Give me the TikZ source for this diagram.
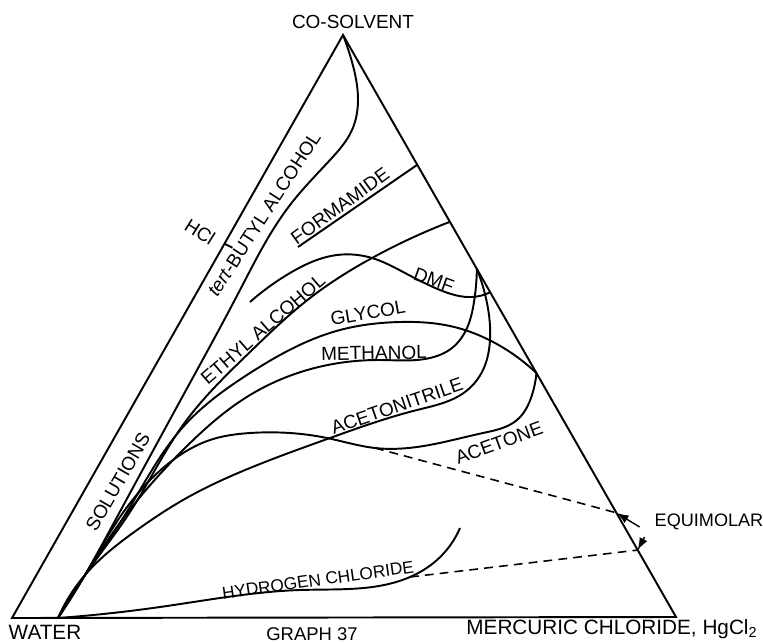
\documentclass[tikz,border=0pt]{standalone}
\usepackage{fontspec}
\setmainfont{Liberation Sans}
\usepackage{tikz}
\usetikzlibrary{arrows.meta, hobby, calc}

\begin{document}
\begin{tikzpicture}[x = 0.02cm, y = -0.02cm,
    curva/.style = {line width = 1.1pt, use Hobby shortcut},
    lato/.style = {line width = 1.1pt},
    scritta/.style = {font = \fontsize{10.8}{12}\selectfont, inner sep = 1pt},
    legame/.style = {dash pattern = on 5pt off 3.5pt, line width = 0.9pt},
    freccia/.style = {-{Latex[length = 7pt, width = 5pt]}, line width = 0.8pt}]
    \useasboundingbox (0,0) rectangle (763,642);
    % Vertici
    \coordinate (W) at (12,618);
    \coordinate (C) at (343,35);
    \coordinate (H) at (676,617);
    \coordinate (P) at (58,618);
    \coordinate (Q) at (85,575);
    % Triangolo
    \draw[lato] (W) -- (C) -- (H) -- cycle;
    \node[scritta] (cosolvente) at (353,22){CO-SOLVENT};
    \node[scritta, font = \fontsize{11.8}{12}\selectfont] (acqua) at (45,632){WATER};
    \node[scritta, font = \fontsize{10.5}{12}\selectfont] (grafico) at (312,634){GRAPH 37};
    \node[scritta, font = \fontsize{11.8}{12}\selectfont] (mercurico) at (612,629){MERCURIC CHLORIDE, HgCl\textsubscript{2}};
    % Tacca HCl
    \coordinate (hcl) at ($(W)!0.642!(C)$);
    \draw[lato] (hcl) -- ++(8,4);
    \node[scritta, rotate = -32] (HCl) at (200,232){HCl};
    % Punti sul lato destro
    \coordinate (fo) at ($(C)!0.223!(H)$);
    \coordinate (et) at ($(C)!0.321!(H)$);
    \coordinate (me) at ($(C)!0.402!(H)$);
    \coordinate (dm) at ($(C)!0.442!(H)$);
    \coordinate (gl) at ($(C)!0.581!(H)$);
    \coordinate (e1) at ($(C)!0.821!(H)$);
    \coordinate (e2) at ($(C)!0.885!(H)$);
    % Curve
    \draw[curva] (P) .. (Q) .. (110,530) .. (185,392) .. (240,290) .. (290,205) .. (330,160) .. (352,130) .. (358,100) .. (352,62) .. (C);
    \draw[curva] (P) .. (Q) .. (130,512) .. (183,425) .. (250,352) .. (310,298) .. (372,258) .. (et);
    \draw[curva] (250,302) .. (290,273) .. (337,255) .. (372,258) .. (405,273) .. (440,290) .. (472,297) .. (dm);
    \draw[curva] (298,247) -- (fo);
    \draw[curva] (P) .. (Q) .. (125,515) .. (183,427) .. (250,373) .. (340,330) .. (400,322) .. (450,326) .. (495,343) .. (gl);
    \draw[curva] (P) .. (Q) .. (122,520) .. (183,450) .. (250,395) .. (323,366) .. (380,360) .. (430,358) .. (452,348) .. (467,328) .. (474,302) .. (me);
    \draw[curva] (P) .. (Q) .. (137,530) .. (183,500) .. (250,468) .. (330,438) .. (417,410) .. (465,392) .. (483,370) .. (490,340) .. (487,303) .. (me);
    \draw[curva] (P) .. (Q) .. (120,517) .. (173,460) .. (210,440) .. (250,433) .. (290,433) .. (327,438) .. (375,448) .. (417,447) .. (483,433) .. (517,420) .. (532,395) .. (gl);
    \draw[curva] (P) .. (160,607) .. (300,590) .. (410,577) .. (437,560) .. (460,528);
    % Rette equimolari
    \coordinate (ac) at (375,448);
    \coordinate (hc) at (410,577);
    \draw[legame] (ac) -- (e1);
    \draw[legame] (hc) -- (e2);
    \node[scritta, font = \fontsize{10.3}{12}\selectfont] (equimolare) at (709,522){EQUIMOLAR};
    \draw[freccia] ([shift = {(-13,5)}]equimolare.west) -- (e1);
    \draw[freccia] ([shift = {(-8,15)}]equimolare.west) -- (e2);
    % Etichette
    \node[scritta, rotate = 60] (soluzioni) at (118,482){SOLUTIONS};
    \node[scritta, rotate = 57] (terbutile) at (264,214){\textit{tert}-BUTYL ALCOHOL};
    \node[scritta, rotate = 36] (formammide) at (340,206){FORMAMIDE};
    \node[scritta, rotate = 41] (etanolo) at (263,329){ETHYL ALCOHOL};
    \node[scritta, rotate = -20] (dmf) at (434,280){DMF};
    \node[scritta, rotate = 10] (glicole) at (368,313){GLYCOL};
    \node[scritta, rotate = 1] (metanolo) at (374,353){METHANOL};
    \node[scritta, rotate = 19] (acetonitrile) at (397,406){ACETONITRILE};
    \node[scritta, rotate = 20] (acetone) at (499,443){ACETONE};
    \node[scritta, rotate = 8, font = \fontsize{9.8}{12}\selectfont] (cloridrico) at (318,580){HYDROGEN CHLORIDE};
\end{tikzpicture}
\end{document}
